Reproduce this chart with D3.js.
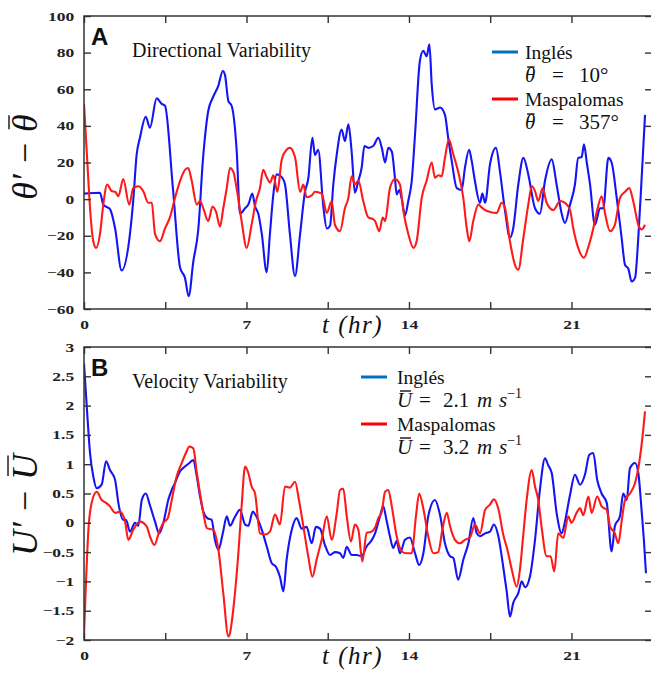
<!DOCTYPE html>
<html>
<head>
<meta charset="utf-8">
<script src="https://cdn.jsdelivr.net/npm/d3@7"></script>
<style>
  body { margin: 0; background: #fff; }
  svg { display: block; }
</style>
</head>
<body>
<div id="chart"></div>
<script>
// hours, value pairs
const inglesDir = [[0,3],[0.69,3.5],[0.83,-3],[1.12,-5.5],[1.34,-16],[1.62,-39],[1.98,-19],[2.12,-1],[2.27,24.5],[2.41,33.5],[2.66,45],[2.84,39],[3.13,55],[3.35,52],[3.49,51],[3.83,6],[4.14,-37.5],[4.35,-43],[4.51,-53],[4.71,-34],[4.92,-17],[5.13,22.5],[5.35,48],[5.57,56],[5.79,62],[5.98,70],[6.07,68],[6.22,53.5],[6.36,51],[6.58,26],[6.72,-8],[6.94,-5],[7.08,-3],[7.25,3],[7.37,-4],[7.51,-8],[7.66,-19],[7.87,-40],[8.01,-19],[8.16,3],[8.30,13.5],[8.52,12],[8.66,8],[8.87,-19],[9.09,-42],[9.31,-19],[9.52,4],[9.66,11],[9.84,33.5],[9.95,24],[10.09,27],[10.31,-4],[10.46,-16],[10.60,-14.5],[10.74,8],[10.89,24.5],[11.10,38],[11.24,31.7],[11.39,40.8],[11.53,26],[11.67,3.5],[11.82,10],[11.96,17],[12.08,29],[12.25,28],[12.46,29],[12.68,33.5],[12.83,28],[12.97,20],[13.11,28],[13.26,26],[13.40,11],[13.47,2.5],[13.58,5],[13.69,0],[13.83,-9],[13.97,-1],[14.12,10],[14.26,35],[14.47,75.4],[14.62,81],[14.76,78],[14.88,84.5],[14.98,62.7],[15.12,49],[15.34,50],[15.55,46],[15.69,33.5],[15.84,21],[16.06,6],[16.27,5],[16.41,17],[16.59,27],[16.70,21],[16.84,10],[17.06,-2],[17.16,3],[17.28,-2],[17.49,19],[17.75,28],[17.92,15],[18.14,-6.5],[18.35,-21],[18.49,-16],[18.71,8],[18.93,22.5],[19.14,13.5],[19.43,-5],[19.64,-8],[19.86,10],[20.15,21.7],[20.36,8],[20.58,-8],[20.72,-13],[20.94,-3],[21.15,8],[21.29,22.5],[21.44,23],[21.54,30],[21.66,20],[21.80,8],[22.01,-14],[22.23,-5],[22.37,-5],[22.59,22.5],[22.73,20],[22.95,0.7],[23.16,-21],[23.31,-36],[23.45,-38],[23.59,-45],[23.74,-43],[23.88,-21],[24.03,13],[24.17,46]];

const maspalomasDir = [[0,52],[0.14,21],[0.26,-5],[0.40,-23],[0.52,-26.6],[0.69,-19],[0.83,-3],[1.00,8],[1.19,4.4],[1.34,4],[1.48,1.6],[1.69,11],[1.95,-3],[2.12,6],[2.34,7],[2.55,4.4],[2.77,-2],[2.92,-2],[3.06,-19],[3.27,-23],[3.49,-16],[3.70,-10],[3.92,0.7],[4.14,10],[4.35,16],[4.49,17],[4.64,10],[4.86,-3],[5.00,-1],[5.14,-5],[5.35,-12],[5.54,-4],[5.69,-7],[5.86,-15],[6.00,-5],[6.15,6],[6.29,17],[6.43,15],[6.60,4],[6.79,-12],[7.01,-26.6],[7.22,-14],[7.41,-1],[7.58,6],[7.72,16],[7.87,12],[8.01,9],[8.16,13],[8.33,4],[8.52,21.6],[8.73,27],[8.87,28],[9.09,23],[9.31,4],[9.45,8],[9.59,1],[9.81,2],[9.95,4],[10.24,3],[10.46,-7.5],[10.67,-1],[10.81,-14],[11.03,-17.5],[11.24,-5],[11.39,0.7],[11.53,12.5],[11.67,8],[11.82,10],[12.03,-1],[12.25,-10],[12.46,-11],[12.54,-12],[12.72,-17.5],[12.87,-10],[12.97,-12],[13.18,6],[13.40,11],[13.61,8],[13.76,-6.5],[13.97,-19],[14.19,-26.6],[14.33,-23],[14.55,0.7],[14.76,10],[14.98,20],[15.12,11.7],[15.26,13],[15.41,12.5],[15.55,22.5],[15.72,32.6],[15.91,24.4],[16.12,15],[16.34,0.7],[16.49,-16],[16.60,-23],[16.77,-12],[16.99,-3],[17.13,-4.5],[17.28,-6],[17.49,-7],[17.78,-7.5],[17.99,-2],[18.14,-5],[18.35,-23],[18.57,-36],[18.71,-38.5],[18.93,-21],[19.14,-3],[19.29,7],[19.43,4.4],[19.57,-1],[19.76,6],[19.93,-2],[20.22,-6],[20.51,-1],[20.72,-2],[20.94,-6],[21.08,-16],[21.29,-26.6],[21.54,-32],[21.73,-26],[21.94,-16],[22.11,-6],[22.30,1.6],[22.45,-8],[22.66,-17.5],[22.87,-14],[23.09,0.7],[23.31,4],[23.49,6],[23.66,-1],[23.88,-14],[24.03,-16.5],[24.17,-14]];

const inglesVel = [[0,2.72],[0.12,1.98],[0.26,1.19],[0.40,0.79],[0.55,0.59],[0.76,0.65],[0.95,1.05],[1.12,0.9],[1.34,0.73],[1.48,0.34],[1.69,0.05],[1.81,0.05],[1.98,-0.15],[2.20,0],[2.34,-0.05],[2.49,0.39],[2.66,0.5],[2.84,0.3],[3.06,0.02],[3.24,-0.18],[3.42,0],[3.63,0.39],[3.78,0.56],[3.92,0.68],[4.14,0.88],[4.35,0.96],[4.54,1.02],[4.71,1.07],[4.86,0.79],[5.00,0.45],[5.14,0.19],[5.31,0.08],[5.50,0.05],[5.64,-0.29],[5.79,-0.46],[5.98,-0.18],[6.15,0.11],[6.29,-0.05],[6.50,0.1],[6.72,0.22],[6.94,-0.03],[7.08,-0.05],[7.27,0.19],[7.44,0.1],[7.66,-0.12],[7.87,-0.4],[8.09,-0.69],[8.27,-0.75],[8.44,-0.92],[8.59,-1.17],[8.73,-0.63],[8.95,-0.12],[9.16,0.08],[9.38,-0.1],[9.59,-0.07],[9.81,-0.35],[9.99,-0.07],[10.17,-0.1],[10.38,-0.38],[10.60,-0.55],[10.81,-0.5],[11.03,-0.52],[11.17,-0.6],[11.32,-0.41],[11.53,-0.55],[11.75,-0.55],[11.96,-0.57],[12.18,-0.4],[12.39,-0.3],[12.54,-0.18],[12.75,0.11],[12.89,0.28],[13.04,0.03],[13.18,-0.23],[13.32,-0.43],[13.47,-0.31],[13.61,-0.52],[13.83,-0.29],[14.04,-0.25],[14.26,-0.52],[14.44,-0.72],[14.62,-0.52],[14.83,0.11],[15.12,0.39],[15.34,0.13],[15.55,-0.35],[15.77,-0.57],[15.91,-0.6],[16.12,-0.97],[16.34,-0.63],[16.56,-0.35],[16.77,0.08],[16.92,-0.18],[17.06,-0.23],[17.28,-0.18],[17.49,-0.15],[17.66,-0.03],[17.85,-0.23],[18.06,-0.75],[18.21,-1.17],[18.35,-1.6],[18.49,-1.37],[18.71,-1.2],[18.86,-1.0],[19.00,-1.1],[19.21,-0.92],[19.43,-0.29],[19.64,0.56],[19.86,1.1],[20.00,0.98],[20.15,0.85],[20.36,0.17],[20.58,-0.18],[20.72,0.02],[20.94,0.48],[21.15,0.82],[21.37,0.65],[21.58,0.82],[21.77,1.16],[21.94,1.19],[22.11,0.73],[22.30,0.5],[22.52,0.34],[22.73,-0.49],[22.87,-0.06],[23.09,0.11],[23.23,0.5],[23.38,0.39],[23.52,0.93],[23.74,1.02],[23.88,0.85],[24.03,0.17],[24.12,-0.29],[24.21,-0.86]];

const maspalomasVel = [[0,-1.91],[0.09,-0.97],[0.19,-0.12],[0.33,0.34],[0.55,0.53],[0.76,0.39],[0.95,0.34],[1.12,0.28],[1.34,0.17],[1.55,0.19],[1.77,0.02],[1.91,-0.29],[2.12,-0.12],[2.41,0.02],[2.70,-0.06],[2.84,-0.23],[3.03,-0.38],[3.24,-0.15],[3.42,0],[3.61,0.08],[3.78,0.39],[3.99,0.79],[4.21,1.02],[4.39,1.19],[4.54,1.3],[4.71,1.27],[4.86,0.85],[5.00,0.5],[5.14,0.17],[5.29,-0.09],[5.57,-0.12],[5.79,-0.46],[6.00,-1.2],[6.22,-1.94],[6.29,-1.88],[6.43,-1.48],[6.65,-0.52],[6.79,0.28],[6.94,0.96],[7.08,0.85],[7.22,0.62],[7.37,0.5],[7.58,-0.18],[7.80,-0.2],[8.01,-0.15],[8.23,0.14],[8.44,-0.03],[8.66,0.62],[8.87,0.6],[9.09,0.7],[9.26,0.39],[9.45,-0.06],[9.66,-0.57],[9.84,-0.92],[10.02,-0.63],[10.24,-0.29],[10.46,0.11],[10.67,-0.29],[10.89,0.17],[11.03,0.56],[11.17,0.58],[11.32,0.11],[11.50,-0.32],[11.67,-0.03],[11.82,-0.12],[11.99,-0.66],[12.18,-0.17],[12.39,-0.15],[12.54,-0.08],[12.68,0.08],[12.83,0.19],[12.97,0.53],[13.11,0.56],[13.26,0.28],[13.47,-0.23],[13.69,-0.49],[13.90,-0.52],[14.12,-0.52],[14.30,0.11],[14.44,0.5],[14.62,0.24],[14.83,-0.23],[15.05,-0.52],[15.26,-0.5],[15.45,-0.09],[15.63,0.17],[15.77,-0.06],[15.98,-0.29],[16.20,-0.35],[16.41,-0.29],[16.63,-0.25],[16.84,-0.03],[17.06,-0.18],[17.28,0.22],[17.49,0.31],[17.66,0.4],[17.85,0.24],[18.06,-0.2],[18.24,-0.46],[18.43,-0.8],[18.64,-1.09],[18.78,-0.8],[18.93,-0.18],[19.07,0.39],[19.29,0.9],[19.43,0.62],[19.57,0.39],[19.71,-0.06],[19.93,-0.57],[20.10,-0.57],[20.26,-0.83],[20.43,-0.18],[20.65,-0.26],[20.86,0.11],[21.00,0.0],[21.22,0.17],[21.37,0.25],[21.51,0.13],[21.73,0.45],[21.87,0.17],[22.11,0.45],[22.30,0.28],[22.52,0.22],[22.66,-0.06],[22.87,-0.18],[23.02,-0.35],[23.16,0.02],[23.31,0.39],[23.52,0.5],[23.74,0.68],[23.88,0.93],[24.03,1.36],[24.17,1.9]];

const xTicks = [0, 3.5, 7, 10.5, 14, 17.5, 21];
const xLabels = [0, 7, 14, 21];
const dirTicks = [-60, -40, -20, 0, 20, 40, 60, 80, 100];
const velTicks = [-2, -1.5, -1, -0.5, 0, 0.5, 1, 1.5, 2, 2.5, 3];

var W = 651, H = 673;
var blue = "#1414f5", red = "#ff1a1a";
var serif = "'Liberation Serif', 'Times New Roman', serif";

var svg = d3.select("#chart").append("svg")
  .attr("width", W)
  .attr("height", H);

var x = d3.scaleLinear().domain([0, 24.47]).range([84, 652]);

// a symbol with a bar over it: the bar is a short line drawn from the glyph's own box
function barred(parent, tspan, shrink, lift) {
  var node = tspan.node();
  var n = node.getNumberOfChars();
  if (!n) return;
  var box = node.getExtentOfChar(0);
  parent.append("line")
    .attr("x1", box.x + box.width * shrink)
    .attr("x2", box.x + box.width * (1 - shrink * 0.4))
    .attr("y1", box.y + lift).attr("y2", box.y + lift)
    .attr("stroke", "#111").attr("stroke-width", 1.4);
}

function panel(opt) {
  var y = d3.scaleLinear().domain(opt.domain).range([opt.bottom, opt.top]);
  var g = svg.append("g");

  g.append("clipPath").attr("id", opt.id + "clip")
    .append("rect")
    .attr("x", x.range()[0]).attr("y", opt.top)
    .attr("width", x.range()[1] - x.range()[0])
    .attr("height", opt.bottom - opt.top);

  var line = d3.line()
    .x(d => x(d[0]))
    .y(d => y(d[1]))
    .curve(d3.curveMonotoneX);

  var lines = g.append("g").attr("clip-path", "url(#" + opt.id + "clip)");
  opt.series.forEach(s => {
    lines.append("path")
      .attr("d", line(s.data))
      .attr("fill", "none")
      .attr("stroke", s.color)
      .attr("stroke-width", 2.1)
      .attr("stroke-linejoin", "round");
  });

  // axes, ticks point inward
  var left = g.append("g").attr("transform", "translate(" + x.range()[0] + ",0)")
    .call(d3.axisLeft(y).tickValues(opt.ticks).tickSize(-7).tickPadding(7).tickFormat(d3.format("")));
  var right = g.append("g").attr("transform", "translate(" + x.range()[1] + ",0)")
    .call(d3.axisRight(y).tickValues(opt.ticks).tickSize(-7).tickFormat(""));
  var top = g.append("g").attr("transform", "translate(0," + opt.top + ")")
    .call(d3.axisTop(x).tickValues(xTicks).tickSize(-7).tickFormat(""));
  var bottom = g.append("g").attr("transform", "translate(0," + opt.bottom + ")")
    .call(d3.axisBottom(x).tickValues(xTicks).tickSize(-7).tickPadding(11)
      .tickFormat(d => xLabels.indexOf(d) >= 0 ? d : ""));

  [left, right, top, bottom].forEach(a => {
    a.attr("font-family", serif);
    a.select(".domain").remove();
    a.selectAll("line").attr("stroke", "#333").attr("stroke-width", 1.4);
    a.selectAll("text")
      .attr("font-weight", "bold")
      .attr("font-size", 12.5)
      .attr("fill", "#222")
      .attr("transform", "scale(1.4,1)");
  });

  g.append("rect")
    .attr("x", x.range()[0]).attr("y", opt.top)
    .attr("width", x.range()[1] - x.range()[0])
    .attr("height", opt.bottom - opt.top)
    .attr("fill", "none").attr("stroke", "#333").attr("stroke-width", 1.5);

  // panel letter and title
  g.append("text").attr("x", 91).attr("y", opt.top + 29)
    .attr("font-family", "'Liberation Sans', Arial, sans-serif")
    .attr("font-weight", "bold").attr("font-size", 24).attr("fill", "#111")
    .text(opt.letter);
  g.append("text").attr("x", 132).attr("y", opt.top + 41)
    .attr("font-family", serif)
    .attr("font-size", 20).attr("fill", "#111")
    .text(opt.title);

  // x title
  g.append("text").attr("x", 322).attr("y", opt.bottom + 24)
    .attr("font-family", serif)
    .attr("font-style", "italic").attr("font-size", 25).attr("fill", "#111")
    .attr("letter-spacing", 1.5)
    .text("t (hr)");

  // y title, written horizontally in a rotated group
  var yg = g.append("g").attr("transform", "translate(37," + opt.yTitleY + ") rotate(-90)");
  var yt = yg.append("text")
    .attr("text-anchor", "middle")
    .attr("font-family", serif)
    .attr("font-style", "italic").attr("font-size", 36).attr("fill", "#111");
  yt.append("tspan").text(opt.sym + "\u2032 \u2212 ");
  var ybar = yt.append("tspan").text(opt.sym);
  barred(yg, ybar, 0.15, opt.sym === "U" ? 3 : 4);

  // legend
  var lg = g.append("g").attr("transform", "translate(" + opt.legX + "," + opt.legY + ")")
    .attr("font-family", serif).attr("font-size", 19.5).attr("fill", "#111");
  opt.legend.forEach((it, i) => {
    var yy = i * 47;
    lg.append("line").attr("x1", 0).attr("x2", 26).attr("y1", yy).attr("y2", yy)
      .attr("stroke", it.color).attr("stroke-width", 3);
    lg.append("text").attr("x", opt.eqX[0]).attr("y", yy + 7).text(it.name);
    var t = lg.append("text").attr("y", yy + 30).attr("font-size", 21);
    var sym = t.append("tspan").attr("x", opt.eqX[0]).attr("font-style", "italic").text(opt.sym);
    t.append("tspan").attr("x", opt.eqX[1]).text("=");
    t.append("tspan").attr("x", opt.eqX[2]).text(it.eq);
    if (it.unit) {
      t.append("tspan").attr("x", opt.eqX[3]).attr("font-style", "italic").text("m");
      t.append("tspan").attr("x", opt.eqX[4]).attr("font-style", "italic").text("s");
      t.append("tspan").attr("font-size", 14).attr("dy", -9).text("\u22121");
    }
    barred(lg, sym, 0.2, opt.sym === "U" ? 3 : 4);
  });
}

panel({
  id: "a", top: 16, bottom: 309, domain: [-60, 100], ticks: dirTicks,
  letter: "A", title: "Directional Variability", sym: "\u03B8", yTitleY: 157,
  series: [{data: inglesDir, color: blue}, {data: maspalomasDir, color: red}],
  legX: 492, legY: 52, eqX: [33, 60, 87],
  legend: [{name: "Inglés", color: "#0070c0", eq: "10°"},
           {name: "Maspalomas", color: "#ff0000", eq: "357°"}]
});

panel({
  id: "b", top: 347, bottom: 640, domain: [-2, 3], ticks: velTicks,
  letter: "B", title: "Velocity Variability", sym: "U", yTitleY: 505,
  series: [{data: inglesVel, color: blue}, {data: maspalomasVel, color: red}],
  legX: 361, legY: 377, eqX: [36, 58, 82, 116, 138],
  legend: [{name: "Inglés", color: "#0070c0", eq: "2.1", unit: true},
           {name: "Maspalomas", color: "#ff0000", eq: "3.2", unit: true}]
});
</script>
</body>
</html>
